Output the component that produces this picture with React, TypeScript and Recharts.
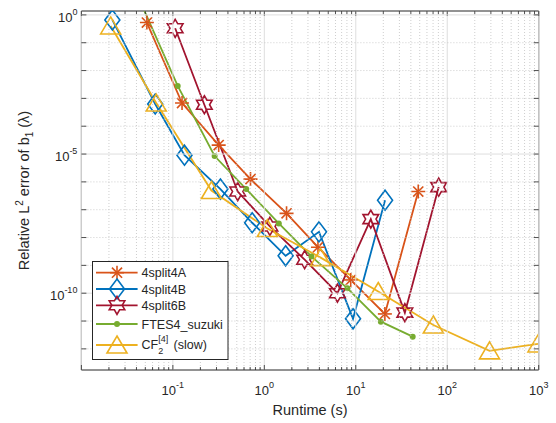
import { LineChart, Line, XAxis, YAxis, Legend, ReferenceArea } from 'recharts';

// runtime (s) / relative error
const x4split4A = [0.052, 0.126, 0.317, 0.706, 1.75, 3.86, 8.81, 20.8, 48.2];
const y4split4A = [0.53, 6.8e-4, 2.1e-5, 1.26e-6, 7.4e-8, 4.5e-9, 3.0e-10, 1.8e-11, 4.5e-7];

const x4split4B = [0.0218, 0.0641, 0.134, 0.331, 0.736, 1.71, 3.96, 9.33, 20.9];
const y4split4B = [0.66, 6.3e-4, 9.1e-6, 5.5e-7, 3.4e-8, 2.2e-9, 1.6e-8, 1.2e-11, 2.2e-7];

const x4split6B = [0.106, 0.221, 0.512, 1.15, 2.76, 6.3, 14.6, 34.4, 80.7];
const y4split6B = [0.33, 5.9e-4, 4.5e-7, 2.5e-8, 1.6e-9, 1.0e-10, 4.6e-8, 2.0e-11, 6.5e-7];

const xSuzuki = [0.047, 0.113, 0.286, 0.634, 1.44, 3.27, 8.11, 18.8, 41.9];
const ySuzuki = [1.86, 2.8e-3, 8.5e-6, 5.5e-7, 3.2e-8, 2.1e-9, 1.5e-10, 9.5e-12, 2.75e-12];

const xCF = [0.0209, 0.0658, 0.264, 1.08, 4.13, 17.6, 70.5, 290, 982];
const yCF = [0.4, 6.8e-4, 4.9e-7, 2.1e-8, 1.9e-9, 1.15e-10, 7.2e-12, 8.5e-13, 1.5e-12];

const xMajor = [0.01, 0.1, 1, 10, 100, 1000];
const xLabeled = [0.1, 1, 10, 100, 1000];
const yTicks = [1e-12, 1e-11, 1e-10, 1e-9, 1e-8, 1e-7, 1e-6, 1e-5, 1e-4, 1e-3, 1e-2, 1e-1, 1];
const yMajor = [1e-10, 1e-5, 1];
const yLabeled = [1e-10, 1e-5, 1];

const xTicks = [
  ...xMajor.slice(0, -1).flatMap((d) => [1, 2, 3, 4, 5, 6, 7, 8, 9].map((k) => k * d)),
  1000,
];

const X_DOMAIN = [0.01, 1000];
const Y_DOMAIN = [1.74e-13, 1.38];

const PLOT = { left: 81.4, right: 538.7, top: 11, bottom: 370 };
const FONT = '"Liberation Sans", Arial, Helvetica, sans-serif';
const INK = '#262626';

const pts = (xs: number[], ys: number[]) => xs.map((x, i) => ({ x, y: ys[i] }));
const near = (a: number, list: number[]) => list.some((b) => Math.abs(Math.log10(a) - Math.log10(b)) < 1e-6);

type MarkerKind = 'asterisk' | 'diamond' | 'hexagram' | 'dot' | 'triangle';

const Marker = ({ kind, cx, cy, color }: { kind: MarkerKind; cx: number; cy: number; color: string }) => {
  const sw = 1.6;
  if (kind === 'asterisk') {
    const r = 7;
    const d = r * 0.72;
    return (
      <g stroke={color} strokeWidth={sw}>
        <line x1={cx - r} x2={cx + r} y1={cy} y2={cy} />
        <line x1={cx} x2={cx} y1={cy - r} y2={cy + r} />
        <line x1={cx - d} x2={cx + d} y1={cy - d} y2={cy + d} />
        <line x1={cx - d} x2={cx + d} y1={cy + d} y2={cy - d} />
      </g>
    );
  }
  if (kind === 'diamond') {
    const hw = 7.5;
    const hh = 10;
    return (
      <polygon
        points={`${cx},${cy - hh} ${cx + hw},${cy} ${cx},${cy + hh} ${cx - hw},${cy}`}
        fill="none"
        stroke={color}
        strokeWidth={sw}
      />
    );
  }
  if (kind === 'hexagram') {
    const ro = 9;
    const ri = ro / Math.sqrt(3);
    const p: string[] = [];
    for (let k = 0; k < 12; k++) {
      const a = (-90 + k * 30) * (Math.PI / 180);
      const r = k % 2 === 0 ? ro : ri;
      p.push(`${cx + r * Math.cos(a)},${cy + r * Math.sin(a)}`);
    }
    return <polygon points={p.join(' ')} fill="none" stroke={color} strokeWidth={sw} />;
  }
  if (kind === 'triangle') {
    return (
      <polygon
        points={`${cx},${cy - 9} ${cx + 10},${cy + 8} ${cx - 10},${cy + 8}`}
        fill="none"
        stroke={color}
        strokeWidth={sw}
      />
    );
  }
  return <circle cx={cx} cy={cy} r={3} fill={color} stroke="none" />;
};

const series = [
  { key: '4split4A', color: '#D95319', kind: 'asterisk' as MarkerKind, data: pts(x4split4A, y4split4A) },
  { key: '4split4B', color: '#0072BD', kind: 'diamond' as MarkerKind, data: pts(x4split4B, y4split4B) },
  { key: '4split6B', color: '#A2142F', kind: 'hexagram' as MarkerKind, data: pts(x4split6B, y4split6B) },
  { key: 'FTES4_suzuki', color: '#77AC30', kind: 'dot' as MarkerKind, data: pts(xSuzuki, ySuzuki) },
  { key: 'CF', color: '#EDB120', kind: 'triangle' as MarkerKind, data: pts(xCF, yCF) },
];

const XTick = (props: any) => {
  const { x, payload } = props;
  const v = payload.value as number;
  const major = near(v, xMajor);
  const tl = major ? 5 : 3;
  const e = Math.round(Math.log10(v));
  return (
    <g>
      <line
        x1={x}
        x2={x}
        y1={PLOT.top}
        y2={PLOT.bottom}
        stroke={major ? '#dedede' : '#c2c2c2'}
        strokeWidth={major ? 1 : 0.8}
        strokeDasharray={major ? undefined : '1 2'}
      />
      <line x1={x} x2={x} y1={PLOT.bottom} y2={PLOT.bottom - tl} stroke={INK} strokeWidth={0.8} />
      <line x1={x} x2={x} y1={PLOT.top} y2={PLOT.top + tl} stroke={INK} strokeWidth={0.8} />
      {near(v, xLabeled) && (
        <text x={x} y={PLOT.bottom + 25} textAnchor="middle" fontFamily={FONT} fontSize={13} fill={INK}>
          10
          <tspan dy={-7} fontSize={9}>
            {e}
          </tspan>
        </text>
      )}
    </g>
  );
};

const YTick = (props: any) => {
  const { y, payload } = props;
  const v = payload.value as number;
  const major = near(v, yMajor);
  const e = Math.round(Math.log10(v));
  return (
    <g>
      <line
        x1={PLOT.left}
        x2={PLOT.right}
        y1={y}
        y2={y}
        stroke={major ? '#dedede' : '#c2c2c2'}
        strokeWidth={major ? 1 : 0.8}
        strokeDasharray={major ? undefined : '1 2'}
      />
      <line x1={PLOT.left} x2={PLOT.left + 5} y1={y} y2={y} stroke={INK} strokeWidth={0.8} />
      <line x1={PLOT.right} x2={PLOT.right - 5} y1={y} y2={y} stroke={INK} strokeWidth={0.8} />
      {near(v, yLabeled) && (
        <text x={PLOT.left - 4} y={y + 7} textAnchor="end" fontFamily={FONT} fontSize={13} fill={INK}>
          10
          <tspan dy={-7} fontSize={9}>
            {e}
          </tspan>
        </text>
      )}
    </g>
  );
};

const LegendBox = () => {
  const rows = [11.7, 28, 44.3, 63, 84];
  return (
    <svg width={137} height={100} style={{ display: 'block' }}>
      <rect x={0.5} y={0.5} width={135.5} height={98} fill="#fff" stroke={INK} strokeWidth={1} />
      {series.map((s, i) => (
        <g key={s.key}>
          <line x1={4} x2={45.6} y1={rows[i]} y2={rows[i]} stroke={s.color} strokeWidth={1.8} />
          <Marker kind={s.kind} cx={25} cy={rows[i]} color={s.color} />
        </g>
      ))}
      <g fontFamily={FONT} fontSize={12.5} fill={INK}>
        {series.slice(0, 4).map((s, i) => (
          <text key={s.key} x={49.6} y={rows[i] + 4.5}>
            {s.key}
          </text>
        ))}
        <text x={49.6} y={rows[4] + 3.5}>
          CF
        </text>
        <text x={66.3} y={rows[4] - 3.5} fontSize={9}>
          [4]
        </text>
        <text x={66.3} y={rows[4] + 9} fontSize={9}>
          2
        </text>
        <text x={81.6} y={rows[4] + 3.5}>
          (slow)
        </text>
      </g>
    </svg>
  );
};

export default function App() {
  return (
    <div style={{ position: 'absolute', left: 0, top: 0, width: 556, height: 423, background: '#fff' }}>
      <LineChart
        width={556}
        height={423}
        margin={{ top: PLOT.top, right: 556 - PLOT.right, bottom: 13, left: PLOT.left - 70 }}
      >
        <XAxis
          dataKey="x"
          type="number"
          scale="log"
          domain={X_DOMAIN}
          allowDataOverflow
          ticks={xTicks}
          interval={0}
          height={40}
          tickLine={false}
          axisLine={false}
          tick={XTick}
        />
        <YAxis
          dataKey="y"
          type="number"
          scale="log"
          domain={Y_DOMAIN}
          allowDataOverflow
          ticks={yTicks}
          interval={0}
          width={70}
          tickLine={false}
          axisLine={false}
          tick={YTick}
        />
        {series.map((s) => (
          <Line
            key={s.key}
            data={s.data}
            dataKey="y"
            name={s.key}
            stroke={s.color}
            strokeWidth={1.8}
            isAnimationActive={false}
            dot={(p: any) => <Marker key={`${s.key}-${p.index}`} kind={s.kind} cx={p.cx} cy={p.cy} color={s.color} />}
            activeDot={false}
          />
        ))}
        <ReferenceArea
          x1={X_DOMAIN[0]}
          x2={X_DOMAIN[1]}
          y1={Y_DOMAIN[0]}
          y2={Y_DOMAIN[1]}
          fill="none"
          stroke={INK}
          strokeWidth={1}
          ifOverflow="extendDomain"
        />
        <Legend
          layout="vertical"
          align="center"
          verticalAlign="middle"
          wrapperStyle={{ left: 92.2, top: 260.5, width: 137, height: 100 }}
          content={() => <LegendBox />}
        />
        <text
          transform={`translate(28.5, ${(PLOT.top + PLOT.bottom) / 2}) rotate(-90)`}
          textAnchor="middle"
          fontFamily={FONT}
          fontSize={14.5}
          fill={INK}
        >
          Relative L
          <tspan dy={-6} fontSize={10}>
            2
          </tspan>
          <tspan dy={6}> error of b</tspan>
          <tspan dy={4} fontSize={10}>
            1
          </tspan>
          <tspan dy={-4}> (λ)</tspan>
        </text>
        <text
          x={(PLOT.left + PLOT.right) / 2}
          y={415}
          textAnchor="middle"
          fontFamily={FONT}
          fontSize={14.5}
          fill={INK}
        >
          Runtime (s)
        </text>
      </LineChart>
    </div>
  );
}
